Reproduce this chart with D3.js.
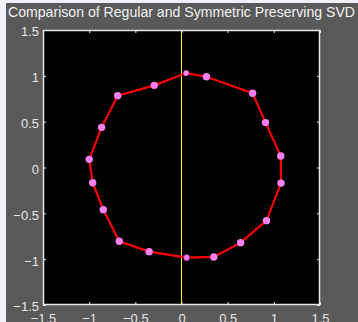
<!DOCTYPE html>
<html><head><meta charset="utf-8">
<script src="https://cdn.jsdelivr.net/npm/d3@7"></script>
<style>html,body{margin:0;padding:0;background:#f0f0f8;overflow:hidden}</style>
</head><body>
<script>
const title = "Comparison of Regular and Symmetric Preserving SVD";
const xVals = [0.05, 0.27, 0.77, 0.91, 1.075, 1.078, 0.92, 0.64, 0.35, 0.056, -0.35, -0.674, -0.847, -0.962, -0.999, -0.865, -0.691, -0.295];
const yVals = [1.03, 0.99, 0.81, 0.49, 0.125, -0.17, -0.58, -0.82, -0.976, -0.984, -0.918, -0.805, -0.46, -0.166, 0.089, 0.438, 0.783, 0.896];
const smallIdx = [0, 9];
const xTicks = [-1.5, -1, -0.5, 0, 0.5, 1, 1.5];
const yTicks = [-1.5, -1, -0.5, 0, 0.5, 1, 1.5];

const W = 358, H = 322;
const svg = d3.select("body").append("svg").attr("width", W).attr("height", H).style("display","block");
svg.append("rect").attr("x",0).attr("y",0).attr("width",W).attr("height",H).attr("fill","#f0f0f8");
svg.append("rect").attr("x",6).attr("y",3).attr("width",W-6).attr("height",H-3).attr("fill","#595959");

const L = 43, R = 320, T = 30, B = 305;
const x = d3.scaleLinear().domain([-1.5,1.5]).range([L,R]);
const y = d3.scaleLinear().domain([-1.5,1.5]).range([B,T]);

svg.append("rect").attr("x",L).attr("y",T).attr("width",R-L).attr("height",B-T).attr("fill","#000");

svg.append("line").attr("x1",x(0)).attr("x2",x(0)).attr("y1",T).attr("y2",B)
  .attr("stroke","#ffff00").attr("stroke-width",1);

const fontFam = "'Liberation Sans', Arial, sans-serif";
const tickLen = 3;
const fmt = d => d3.format("")(d).replace("-", "\u2212");
const axB = d3.axisBottom(x).tickValues(xTicks).tickSize(-tickLen).tickPadding(9).tickFormat(fmt);
const axT = d3.axisTop(x).tickValues(xTicks).tickSize(-tickLen).tickFormat("");
const axL = d3.axisLeft(y).tickValues(yTicks).tickSize(-tickLen).tickPadding(4).tickFormat(fmt);
const axR = d3.axisRight(y).tickValues(yTicks).tickSize(-tickLen).tickFormat("");

function style(g){
  g.select(".domain").remove();
  g.selectAll(".tick line").attr("stroke","#e8e8e8");
  g.selectAll(".tick text").attr("fill","#e6e6e6").style("font-family",fontFam).style("font-size","13px");
}
svg.append("g").attr("transform",`translate(0,${B})`).call(axB).call(style)
  .selectAll(".tick text").attr("dy","0.71em");
svg.append("g").attr("transform",`translate(0,${T})`).call(axT).call(style);
svg.append("g").attr("transform",`translate(${L},0)`).call(axL).call(style)
  .selectAll(".tick text").attr("dy","0.45em");
svg.append("g").attr("transform",`translate(${R},0)`).call(axR).call(style);

svg.append("rect").attr("x",L+0.5).attr("y",T+0.5).attr("width",R-L-1).attr("height",B-T-1)
  .attr("fill","none").attr("stroke","#e8e8e8").attr("stroke-width",1.5);

const pts = xVals.map((v,i)=>({x:v, y:yVals[i], small: smallIdx.includes(i)}));
const line = d3.line().x(d=>x(d.x)).y(d=>y(d.y)).curve(d3.curveLinearClosed);
svg.append("path").datum(pts).attr("d",line).attr("fill","none").attr("stroke","#ff0000").attr("stroke-width",2.2);

svg.selectAll("ellipse.m").data(pts).enter().append("ellipse").attr("class","m")
  .attr("cx",d=>x(d.x)).attr("cy",d=>y(d.y))
  .attr("rx",(d,i)=>d.small?(i===9?3.2:2.8):3.7)
  .attr("ry",(d,i)=>d.small?(i===9?3.4:2.8):3.7)
  .attr("fill","#ff80f4")
  .attr("stroke",(d,i)=>i===9?"#5a1a55":"none").attr("stroke-width",1);

svg.append("text").attr("x",181.5).attr("y",17).attr("text-anchor","middle")
  .attr("fill","#f2f2f2").style("font-family",fontFam).style("font-size","14.1px").text(title);
</script>
</body></html>
